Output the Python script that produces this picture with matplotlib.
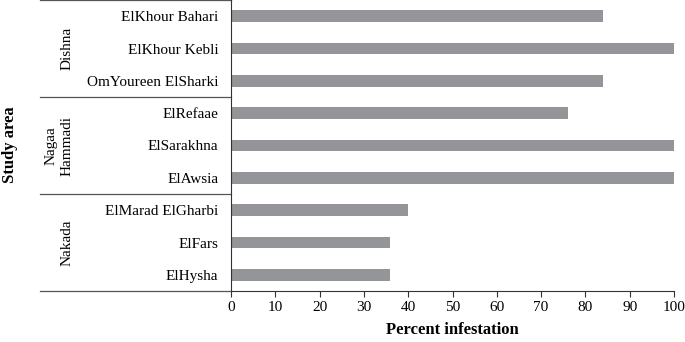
import matplotlib.pyplot as plt
import matplotlib.transforms as mtransforms

plt.rcParams['font.family'] = ['Liberation Serif', 'DejaVu Serif']

villages = ['ElKhour Bahari', 'ElKhour Kebli', 'OmYoureen ElSharki',
            'ElRefaae', 'ElSarakhna', 'ElAwsia',
            'ElMarad ElGharbi', 'ElFars', 'ElHysha']
infestation = [84, 100, 84, 76, 100, 100, 40, 36, 36]
districts = ['Dishna', 'Nagaa\nHammadi', 'Nakada']
group_size = 3

fig = plt.figure(figsize=(6.85, 3.42), dpi=100)
ax = fig.add_axes([231 / 685, 1 - 291 / 342, 443 / 685, 291 / 342])

ypos = list(range(len(villages)))
ax.barh(ypos, infestation, height=0.37, color='#939598')
ax.set_ylim(len(villages) - 0.5, -0.5)
ax.set_xlim(0, 100)
ax.set_xticks(range(0, 101, 10))
ax.set_yticks(ypos)
ax.set_yticklabels(villages, fontsize=11)
ax.tick_params(axis='y', length=0, pad=9)
ax.tick_params(axis='x', length=4, width=0.8, color='#333333', labelsize=11, pad=3)

for s in ['top', 'right']:
    ax.spines[s].set_visible(False)
for s in ['left', 'bottom']:
    ax.spines[s].set_color('#333333')
    ax.spines[s].set_linewidth(0.8)

# group separators reaching out to the left
trans = mtransforms.blended_transform_factory(ax.transAxes, ax.transData)
x0 = (40 - 231) / 443
for k in range(len(districts) + 1):
    yb = k * group_size - 0.5
    ax.plot([x0, 0], [yb, yb], transform=trans, color='#555555', lw=0.9, clip_on=False)

for k, name in enumerate(districts):
    yc = k * group_size + (group_size - 1) / 2
    xc = (67 - 231) / 443 if '\n' not in name else (59 - 231) / 443
    ax.text(xc, yc, name, transform=trans, rotation=90, ha='center', va='center',
            fontsize=11, linespacing=1.25)

ax.set_xlabel('Percent infestation', fontsize=12, fontweight='bold', labelpad=6)
fig.text(10 / 685, 1 - 145 / 342, 'Study area', rotation=90, ha='center', va='center',
         fontsize=12, fontweight='bold')

fig.savefig('out.png', dpi=100)
